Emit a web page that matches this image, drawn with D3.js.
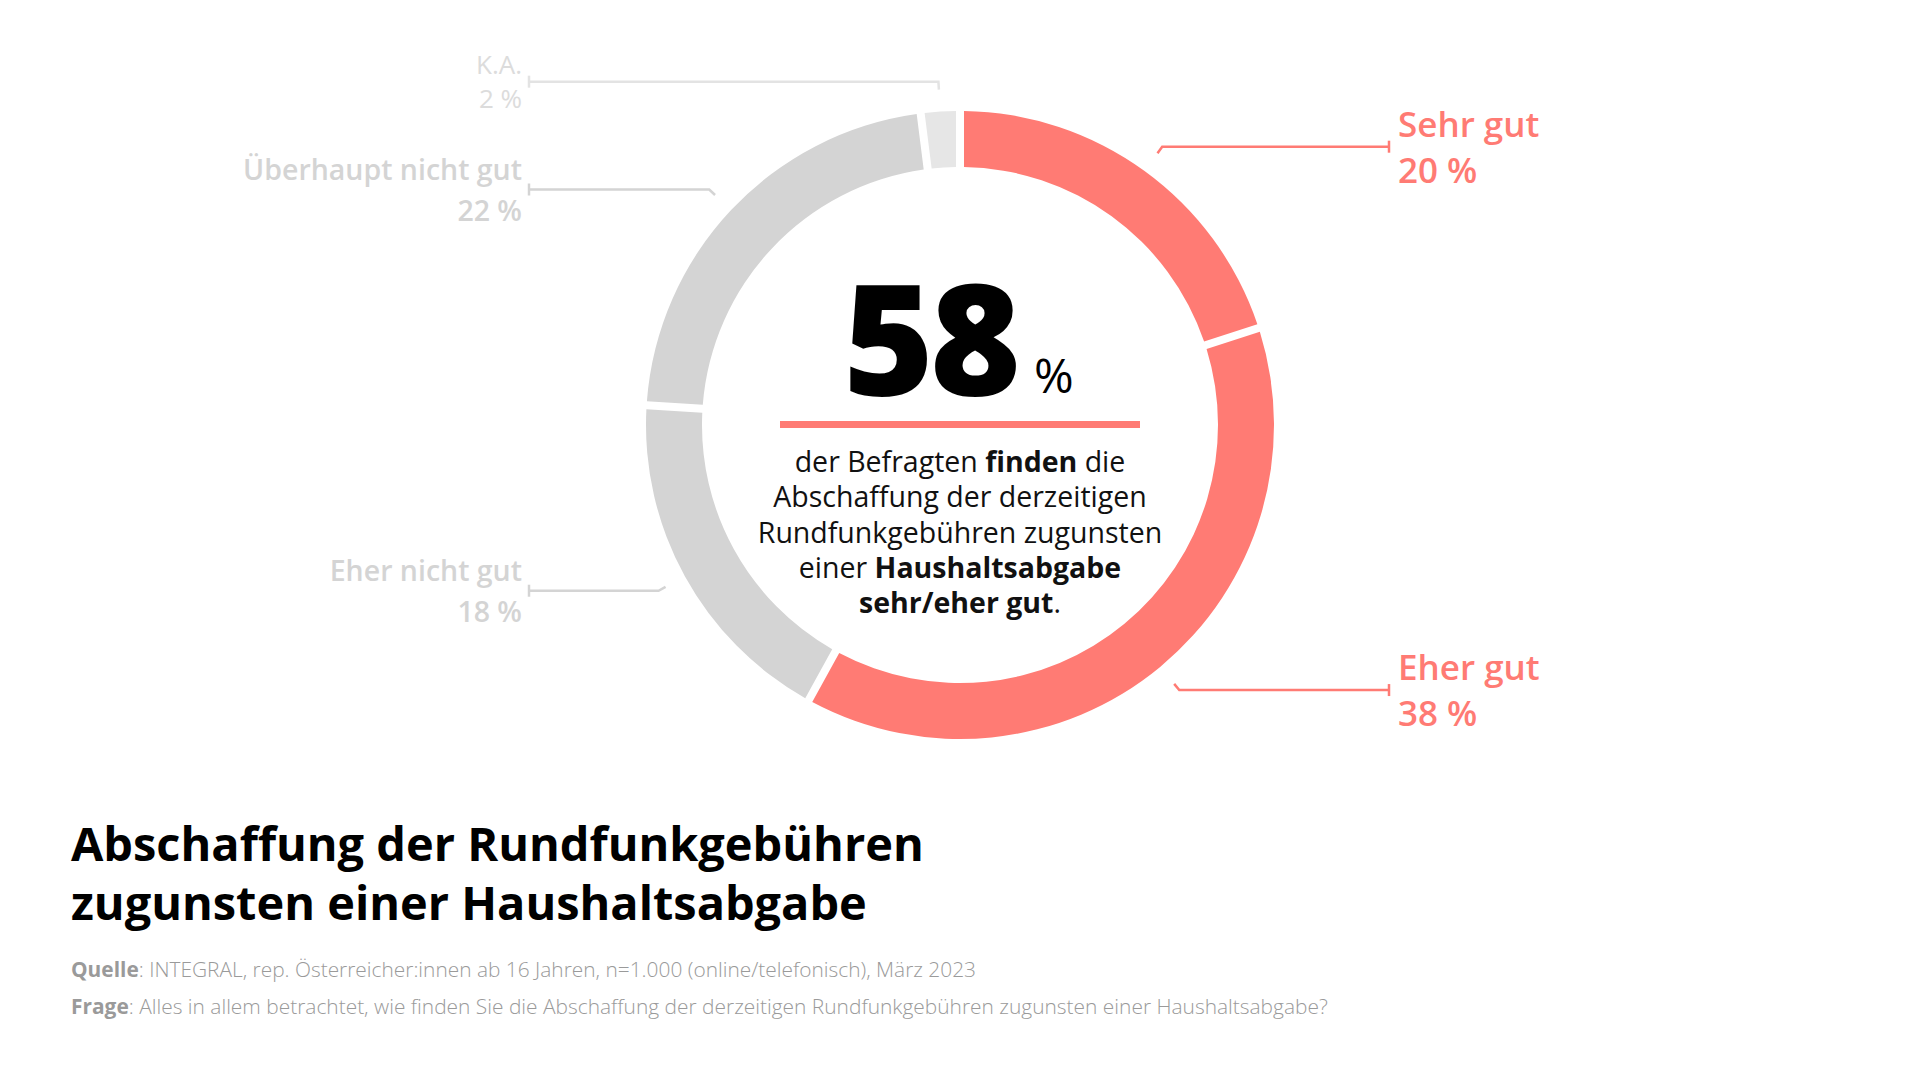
<!DOCTYPE html>
<html>
<head>
<meta charset="utf-8">
<script src="https://cdn.jsdelivr.net/npm/d3@7"></script>
<style>
  html, body { margin: 0; padding: 0; background: #fff; }
  svg { display: block; }
  text { font-family: "Open Sans", "Noto Sans", sans-serif; }
</style>
</head>
<body>
<svg id="chart" width="1920" height="1080"></svg>
<script>
// ---- data ----
const categories = ["Sehr gut", "Eher gut", "Eher nicht gut", "Überhaupt nicht gut", "K.A."];
const values = [20, 38, 18, 22, 2];
const valueLabels = ["20 %", "38 %", "18 %", "22 %", "2 %"];
const segmentColors = ["#ff7b74", "#ff7b74", "#d4d4d4", "#d4d4d4", "#e6e6e6"];
const labelColors = ["#ff7b74", "#ff7b74", "#d4d4d4", "#d4d4d4", "#dcdcdc"];
const headline = "58";
const bodyLines = [
  [["der Befragten ", 400], ["finden", 700], [" die", 400]],
  [["Abschaffung der derzeitigen", 400]],
  [["Rundfunkgebühren zugunsten", 400]],
  [["einer ", 400], ["Haushaltsabgabe", 700]],
  [["sehr/eher gut", 700], [".", 400]]
];
const titleLines = ["Abschaffung der Rundfunkgebühren", "zugunsten einer Haushaltsabgabe"];
const sourceLines = [
  ["Quelle", ": INTEGRAL, rep. Österreicher:innen ab 16 Jahren, n=1.000 (online/telefonisch), März 2023"],
  ["Frage", ": Alles in allem betrachtet, wie finden Sie die Abschaffung der derzeitigen Rundfunkgebühren zugunsten einer Haushaltsabgabe?"]
];

// ---- layout ----
const svg = d3.select("#chart");
const cx = 960, cy = 425;
const rOuter = 314, rInner = 258;

const pie = d3.pie().sort(null).value(d => d.value);
const data = categories.map((c, i) => ({ name: c, value: values[i], label: valueLabels[i], color: segmentColors[i], lcolor: labelColors[i], i }));
const arcs = pie(data);

const arc = d3.arc().innerRadius(rInner).outerRadius(rOuter).padAngle(0.0197);

const g = svg.append("g").attr("transform", `translate(${cx},${cy})`);
g.selectAll("path.seg").data(arcs).join("path")
  .attr("class", "seg")
  .attr("d", arc)
  .attr("fill", d => d.data.color);

// leader lines + labels
const r1 = 336, r2 = 344;
const tickRight = 1389, tickLeft = 529;
arcs.forEach(a => {
  const mid = (a.startAngle + a.endAngle) / 2;
  const p1 = [cx + r1 * Math.sin(mid), cy - r1 * Math.cos(mid)];
  const p2 = [cx + r2 * Math.sin(mid), cy - r2 * Math.cos(mid)];
  const right = mid < Math.PI;
  const tx = right ? tickRight : tickLeft;
  const isKA = a.data.name === "K.A.";
  const lineColor = isKA ? "#e3e3e3" : a.data.lcolor;
  const line = d3.line();
  svg.append("path")
    .attr("d", line([p1, p2, [tx, p2[1]]]))
    .attr("fill", "none")
    .attr("stroke", lineColor)
    .attr("stroke-width", 2.5);
  svg.append("line")
    .attr("x1", tx).attr("x2", tx)
    .attr("y1", p2[1] - 6).attr("y2", p2[1] + 6)
    .attr("stroke", lineColor).attr("stroke-width", 2.5);

  const lx = right ? tx + 9 : tx - 7;
  const anchor = right ? "start" : "end";
  let fs, wt, dyName, dyVal;
  if (isKA) { fs = 26; wt = 400; dyName = -8; dyVal = 26; }
  else if (right) { fs = 35; wt = 600; dyName = -10; dyVal = 36; }
  else { fs = 28.5; wt = 600; dyName = -10; dyVal = 31; }
  svg.append("text").attr("x", lx).attr("y", p2[1] + dyName)
    .attr("text-anchor", anchor).attr("font-size", fs).attr("font-weight", wt)
    .attr("fill", a.data.lcolor).text(a.data.name);
  svg.append("text").attr("x", lx).attr("y", p2[1] + dyVal)
    .attr("text-anchor", anchor).attr("font-size", fs).attr("font-weight", wt)
    .attr("fill", a.data.lcolor).text(a.data.label);
});

// center content
svg.append("text").attr("x", 930).attr("y", 395)
  .attr("text-anchor", "middle").attr("font-size", 155).attr("font-weight", 800)
  .attr("letter-spacing", "-4").attr("fill", "#000").text(headline);
svg.append("text").attr("x", 1034).attr("y", 393)
  .attr("font-size", 48).attr("font-weight", 400).attr("fill", "#000").text("%");
svg.append("rect").attr("x", 780).attr("y", 421).attr("width", 360).attr("height", 7).attr("fill", "#ff7b74");

bodyLines.forEach((parts, li) => {
  const t = svg.append("text").attr("x", 960).attr("y", 472 + li * 35.3)
    .attr("text-anchor", "middle").attr("font-size", 28.5).attr("fill", "#111");
  parts.forEach(p => t.append("tspan").attr("font-weight", p[1]).text(p[0]));
});

// fit helper (sets font-size so the text spans the given width)
function fit(sel, w) {
  const len = sel.node().getComputedTextLength();
  const fs = parseFloat(sel.attr("font-size"));
  sel.attr("font-size", fs * w / len);
}

// title
const titleWidths = [853, 796];
titleLines.forEach((t, i) => {
  const s = svg.append("text").attr("x", 71).attr("y", 861 + i * 59)
    .attr("font-size", 46).attr("font-weight", 700).attr("fill", "#000").text(t);
  fit(s, titleWidths[i]);
});

// sources
const srcWidths = [906, 1258];
sourceLines.forEach((l, i) => {
  const t = svg.append("text").attr("x", 71).attr("y", 977 + i * 37)
    .attr("font-size", 20).attr("fill", "#9a9a9a");
  t.append("tspan").attr("font-weight", 700).text(l[0]);
  t.append("tspan").attr("font-weight", 300).text(l[1]);
  fit(t, srcWidths[i]);
});
</script>
</body>
</html>
